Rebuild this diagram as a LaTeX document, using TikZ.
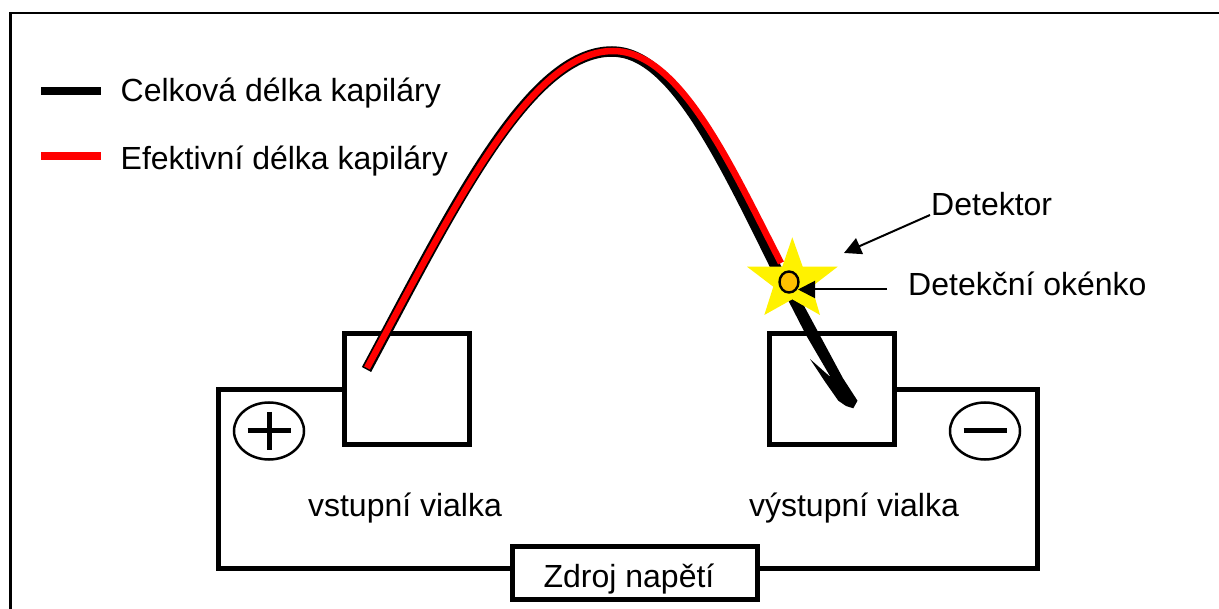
\documentclass[tikz,border=0pt]{standalone}
\usepackage{fontspec}
\setmainfont{Liberation Sans}
\usetikzlibrary{arrows.meta,shapes.geometric}
\tikzset{
  wire/.style={line width=5pt, line join=miter},
  boxn/.style={draw, line width=5pt, minimum width=124.5pt, minimum height=111pt, inner sep=0pt, outer sep=0pt},
  lbl/.style={inner sep=0pt, anchor=base west, font=\fontsize{32}{38}\selectfont},
  pol/.style={draw, ellipse, line width=2.5pt, minimum width=70pt, minimum height=57pt, inner sep=0pt},
  sign/.style={line width=5pt},
  pointer/.style={line width=2pt, -{Triangle[length=17pt,width=17pt]}},
  capblack/.style={line width=10.5pt, black},
  capred/.style={line width=6.5pt, red},
}
\begin{document}
\begin{tikzpicture}[x=1pt,y=-1pt]
\useasboundingbox (0,0) rectangle (1219,609);
% frame
\coordinate (f1) at (10.3,609); \coordinate (f2) at (10.3,13); \coordinate (f3) at (1219,13);
\draw[line width=2.6pt] (f1) -- (f2) -- (f3);
% legend
\coordinate (k1) at (41,91); \coordinate (k2) at (101,91); \coordinate (r1) at (41,156); \coordinate (r2) at (101,156);
\draw[line width=8.3pt] (k1) -- (k2);
\draw[line width=8.3pt,red] (r1) -- (r2);
\node[lbl] (celk) at (120.5,102) {Celková délka kapiláry};
\node[lbl] (efek) at (120.5,170) {Efektivní délka kapiláry};
% boxes
\node[boxn] (vin) at (407.2,389.5) {};
\node[boxn] (vout) at (832.2,389.5) {};
\node[boxn, fill=white, minimum width=245pt, minimum height=53.5pt] (src) at (634.5,573) {};
\node[inner sep=0pt, anchor=base, font=\fontsize{32}{38}\selectfont] (srct) at (629,587) {Zdroj napětí};
% wires
\coordinate (tl) at (218,390); \coordinate (bl) at (218,568);
\coordinate (tr) at (1037,390); \coordinate (br) at (1037,568);
\draw[wire] (vin.west |- tl) -- (tl) -- (bl) -- (src.west |- bl);
\draw[wire] (vout.east |- tr) -- (tr) -- (br) -- (src.east |- br);
% polarity
\node[pol] (plus) at (269,431) {};
\draw[sign] (plus.center) ++(-21.5,0) coordinate (p1) ++(43,0) coordinate (p2);
\draw[sign] (p1) -- (p2);
\draw[sign] (plus.center) ++(0,-19) coordinate (p3) ++(0,38) coordinate (p4);
\draw[sign] (p3) -- (p4);
\node[pol] (minus) at (985,431) {};
\draw[sign] (minus.center) ++(-21.5,0) coordinate (m1) ++(43,0) coordinate (m2);
\draw[sign] (m1) -- (m2);
% labels
\node[lbl,anchor=base] (vst) at (405,517) {vstupní vialka};
\node[lbl,anchor=base] (vys) at (854,517) {výstupní vialka};
\node[lbl] (det) at (931,216) {Detektor};
\node[lbl] (oke) at (908,296) {Detekční okénko};
% capillary
\fill[black] (787,298) -- (806,335) -- (830.7,377.3) -- (810,359) -- (825,381.7) -- (838.3,400.7) -- (846,406) -- (853.3,408.3) -- (857.5,400.7) -- (843,378.3) -- (821.5,338.3) -- (804.5,306.7) -- (799,295) -- cycle;
\draw[capblack] (366.5,369.5) .. controls (454,206) and (529,51.5) .. (612,51.5)
   .. controls (675,51.5) and (725,165) .. (791,298);
\draw[capred] (367,368) .. controls (455,205) and (530,51) .. (613,51)
   .. controls (680,51) and (731,166) .. (781,263);
% star
\fill[yellow] (792.3,237.3) -- (802.7,266.7) -- (837.7,266.7) -- (811.7,286.7) -- (820,315) -- (792.3,299.3) -- (764.3,315) -- (773.3,286.7) -- (747,266.7) -- (782.3,266.7) -- cycle;
\node[draw, ellipse, fill={rgb,255:red,255;green,192;blue,0}, line width=2.4pt, minimum width=19pt, minimum height=21pt, inner sep=0pt] (win) at (789,282) {};
% pointers
\coordinate (a1s) at (930,215); \coordinate (a1e) at (844,253);
\draw[pointer] (a1s) -- (a1e);
\coordinate (a2s) at (887,289.5); \coordinate (a2e) at (798,289.5);
\draw[pointer] (a2s) -- (a2e);
\end{tikzpicture}
\end{document}
